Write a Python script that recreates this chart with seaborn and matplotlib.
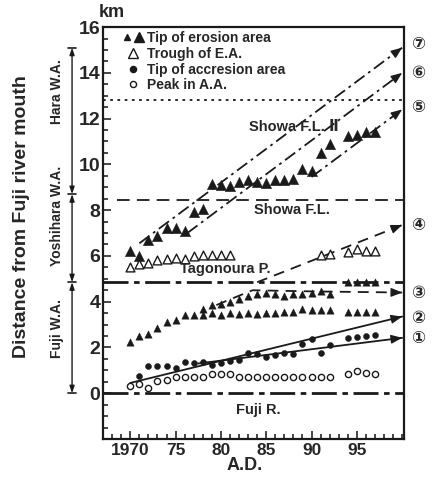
import numpy as np
import pandas as pd
import matplotlib
matplotlib.use("Agg")
import matplotlib.pyplot as plt
import matplotlib.transforms as mtransforms
from matplotlib.lines import Line2D
from matplotlib.legend_handler import HandlerTuple
import seaborn as sns

# ── DATA ─────────────────────────────────────────────────────
# tip of erosion area, upper group (large filled triangles)
ero_hi_year = [1970, 1971, 1972, 1973, 1974, 1975, 1976, 1977, 1978, 1979, 1980,
               1981, 1982, 1983, 1984, 1985, 1986, 1987, 1988, 1989, 1990, 1991,
               1992, 1994, 1995, 1996, 1997]
ero_hi_km = [6.2, 6.0, 6.7, 6.85, 7.2, 7.2, 7.1, 7.9, 8.05, 9.15, 9.1,
             9.05, 9.25, 9.3, 9.25, 9.2, 9.3, 9.3, 9.35, 9.8, 9.7, 10.5,
             10.9, 11.25, 11.3, 11.4, 11.4]

# trough of erosion area (open triangles)
trough_year = [1970, 1971, 1972, 1973, 1974, 1975, 1976, 1977, 1978, 1979, 1980,
               1981, 1991, 1992, 1994, 1995, 1996, 1997]
trough_km = [5.5, 5.65, 5.7, 5.8, 5.85, 5.9, 5.85, 6.0, 6.05, 6.05, 6.05,
             6.05, 6.05, 6.1, 6.15, 6.3, 6.2, 6.2]

# tip of erosion area, lower group (small filled triangles), two rows
ero_lo1_year = [1970, 1971, 1972, 1973, 1974, 1975, 1976, 1977, 1978, 1979, 1980,
                1981, 1982, 1983, 1984, 1985, 1986, 1987, 1988, 1989, 1990, 1991,
                1992, 1994, 1995, 1996, 1997]
ero_lo1_km = [2.25, 2.5, 2.6, 2.85, 3.1, 3.2, 3.4, 3.4, 3.7, 3.85, 3.9,
              4.0, 4.1, 4.25, 4.35, 4.4, 4.35, 4.25, 4.35, 4.35, 4.4, 4.45,
              4.35, 4.85, 4.85, 4.85, 4.85]
ero_lo2_year = [1978, 1979, 1980, 1981, 1982, 1983, 1984, 1985, 1986, 1987, 1988,
                1989, 1990, 1991, 1992, 1994, 1995, 1996, 1997]
ero_lo2_km = [3.4, 3.5, 3.4, 3.5, 3.45, 3.5, 3.45, 3.5, 3.5, 3.55, 3.55,
              3.7, 3.65, 3.65, 3.65, 3.55, 3.55, 3.55, 3.55]

# tip of accretion area (filled circles)
acc_year = [1971, 1972, 1973, 1974, 1975, 1976, 1977, 1978, 1979, 1980, 1981,
            1982, 1983, 1984, 1985, 1986, 1987, 1988, 1989, 1990, 1991, 1992,
            1994, 1995, 1996, 1997]
acc_km = [0.75, 1.2, 1.2, 1.2, 1.12, 1.35, 1.3, 1.35, 1.22, 1.3, 1.4,
          1.45, 1.75, 1.7, 1.57, 1.65, 1.75, 1.7, 2.15, 2.35, 1.75, 2.1,
          2.4, 2.45, 2.5, 2.55]

# peak in accretion area (open circles)
peak_year = [1970, 1971, 1972, 1973, 1974, 1975, 1976, 1977, 1978, 1979, 1980,
             1981, 1982, 1983, 1984, 1985, 1986, 1987, 1988, 1989, 1990, 1991,
             1992, 1994, 1995, 1996, 1997]
peak_km = [0.3, 0.4, 0.25, 0.55, 0.6, 0.7, 0.72, 0.72, 0.7, 0.82, 0.85,
           0.82, 0.72, 0.72, 0.72, 0.72, 0.72, 0.72, 0.72, 0.72, 0.72, 0.72,
           0.7, 0.85, 0.95, 0.9, 0.85]

# trend lines ①..⑦
trend_year = {
    "①": [1977.5, 2000], "②": [1970, 2000], "③": [1979.5, 1981, 1983.5, 1990, 2000],
    "④": [1984, 2000], "⑤": [1990, 2000], "⑥": [1976.3, 2000], "⑦": [1971, 2000],
}
trend_km = {
    "①": [1.3, 2.42], "②": [0.45, 3.35], "③": [3.85, 4.1, 4.5, 4.45, 4.4],
    "④": [4.85, 7.35], "⑤": [9.45, 12.4], "⑥": [7.0, 14.0], "⑦": [6.55, 15.1],
}
trend_label_km = {"①": 2.4, "②": 3.3, "③": 4.4, "④": 7.35, "⑤": 12.5, "⑥": 14.0, "⑦": 15.25}

# reference levels
ref_names = ["Showa F.L. Ⅱ", "Showa F.L.", "Tagonoura P.", "Fuji R."]
ref_km = [12.8, 8.45, 4.85, 0.0]
ref_label_pos = [(1988.1, 11.65), (1987.8, 8.0), (1980.5, 5.42), (1984.1, -0.75)]

# coastal areas on the left
area_names = ["Hara W.A.", "Yoshihara W.A.", "Fuji W.A."]
area_bounds = [(8.7, 15.1), (4.85, 8.7), (0.0, 4.85)]
area_label_km = [13.2, 7.75, 2.85]

# ── STYLE ───────────────────────────────────────────────────
sns.set_theme(style="ticks")
plt.rcParams["font.family"] = ["Liberation Sans", "DejaVu Sans"]
plt.rcParams["font.weight"] = "bold"

fig = plt.figure(figsize=(4.33, 4.79), dpi=100)
ax = fig.add_axes([0.238, 0.0835, 0.695, 0.860])

dashdot = (0, (7, 2.5, 1.5, 2.5))

# reference lines
ax.axhline(ref_km[0], color="k", lw=1.3, ls=(0, (1.5, 2.5)), zorder=1)
ax.hlines(ref_km[1], 1968.5, 2000.2, color="k", lw=1.3, ls=(0, (7, 4)), zorder=1)
ax.axhline(ref_km[2], color="k", lw=2.0, ls=(0, (9, 2, 2, 2)), zorder=1)
ax.axhline(ref_km[3], color="k", lw=2.0, ls=(0, (9, 2, 2, 2)), zorder=1)

# trend lines
styles = {"①": "-", "②": "-", "③": (0, (6, 4)), "④": (0, (6, 4)),
          "⑤": dashdot, "⑥": dashdot, "⑦": dashdot}
for key in trend_year:
    xs, ys = trend_year[key], trend_km[key]
    sns.lineplot(x=xs, y=ys, color="k", lw=1.3, linestyle=styles[key],
                 ax=ax, zorder=2, sort=False, estimator=None)
    x0, y0, x1, y1 = xs[-2], ys[-2], xs[-1], ys[-1]
    frac = 0.6 / (x1 - x0)
    ax.annotate("", xy=(x1, y1), xytext=(x1 - frac * (x1 - x0), y1 - frac * (y1 - y0)),
                arrowprops=dict(arrowstyle="-|>,head_length=0.55,head_width=0.22",
                                color="k", lw=1, shrinkA=0, shrinkB=0),
                annotation_clip=False, zorder=4)
    ax.text(2001.7, trend_label_km[key], key, fontsize=12, fontweight="bold",
            ha="center", va="center", family="DejaVu Sans", clip_on=False)

# points
sns.scatterplot(x=ero_hi_year, y=ero_hi_km, marker="^", s=56, color="k",
                edgecolor="k", linewidth=0.3, ax=ax, zorder=3)
sns.scatterplot(x=trough_year, y=trough_km, marker="^", s=40, color="white",
                edgecolor="k", linewidth=1.0, ax=ax, zorder=3)
sns.scatterplot(x=ero_lo1_year, y=ero_lo1_km, marker="^", s=28, color="k",
                edgecolor="k", linewidth=0.3, ax=ax, zorder=3)
sns.scatterplot(x=ero_lo2_year, y=ero_lo2_km, marker="^", s=28, color="k",
                edgecolor="k", linewidth=0.3, ax=ax, zorder=3)
sns.scatterplot(x=acc_year, y=acc_km, marker="o", s=19, color="k",
                edgecolor="k", linewidth=0.3, ax=ax, zorder=3)
sns.scatterplot(x=peak_year, y=peak_km, marker="o", s=20, color="white",
                edgecolor="k", linewidth=1.0, ax=ax, zorder=3)

# reference labels
for name, (xt, yt) in zip(ref_names, ref_label_pos):
    ax.text(xt, yt, name, fontsize=10.5, ha="center", va="center",
            family=["Liberation Sans", "DejaVu Sans"], zorder=5)

# axes
ax.set_xlim(1967, 2000.2)
ax.set_ylim(-2, 16)
ax.set_xticks([1970, 1975, 1980, 1985, 1990, 1995])
ax.set_xticklabels(["1970", "75", "80", "85", "90", "95"])
ax.set_xticks(np.arange(1967, 2001, 1), minor=True)
ax.set_yticks(np.arange(0, 17, 2))
ax.set_yticks(np.arange(-2, 16.01, 0.5), minor=True)
ax.tick_params(axis="both", which="both", direction="in", width=1.2)
ax.tick_params(axis="both", which="major", length=6)
ax.tick_params(axis="both", which="minor", length=3.5)
ax.tick_params(axis="y", labelsize=14, pad=2)
ax.tick_params(axis="x", labelsize=12.5, pad=3)
for lab in ax.get_xticklabels() + ax.get_yticklabels():
    lab.set_fontweight("bold")
for sp in ax.spines.values():
    sp.set_visible(True)
    sp.set_linewidth(1.6)
    sp.set_color("k")
ax.set_xlabel("")
ax.set_ylabel("")

blend = mtransforms.blended_transform_factory(ax.transAxes, ax.transData)
ax.text(0.03, 16.62, "km", transform=blend, fontsize=13, ha="center", va="center", clip_on=False)
ax.text(1982.6, -3.15, "A.D.", fontsize=13, ha="center", va="center", clip_on=False)

# left side: coastal areas
xb = -0.103
for (lo, hi), name, yl in zip(area_bounds, area_names, area_label_km):
    ax.annotate("", xy=(xb, lo), xytext=(xb, hi), xycoords=blend, textcoords=blend,
                arrowprops=dict(arrowstyle="<|-|>,head_length=0.35,head_width=0.12",
                                color="k", lw=1, shrinkA=0, shrinkB=0),
                annotation_clip=False)
    ax.text(-0.153, yl, name, transform=blend, rotation=90, fontsize=10,
            ha="center", va="center", clip_on=False)
for yb in [0.0, 4.85, 8.7, 15.1]:
    ax.plot([xb - 0.013, xb + 0.013], [yb, yb], color="k", lw=1.2,
            transform=blend, clip_on=False)
ax.text(-0.27, 7.7, "Distance from Fuji river mouth", transform=blend, rotation=90,
        fontsize=14, ha="center", va="center", clip_on=False)

# legend
h_ero = (Line2D([], [], marker="^", ls="", color="k", markersize=4.5),
         Line2D([], [], marker="^", ls="", color="k", markersize=7.5))
h_tr = Line2D([], [], marker="^", ls="", mfc="white", mec="k", markersize=6.5, mew=1)
h_acc = Line2D([], [], marker="o", ls="", color="k", markersize=4.4)
h_pk = Line2D([], [], marker="o", ls="", mfc="white", mec="k", markersize=4.4, mew=1)
ax.legend([h_ero, h_tr, h_acc, h_pk],
          ["Tip of erosion area", "Trough of E.A.", "Tip of accresion area", "Peak in A.A."],
          handler_map={tuple: HandlerTuple(ndivide=None, pad=0.3)},
          loc="upper left", bbox_to_anchor=(0.065, 0.99), frameon=False,
          prop={"weight": "bold", "size": 10}, handlelength=1.5, handletextpad=0.25,
          labelspacing=0.12, borderpad=0, borderaxespad=0)

plt.savefig("out.png", dpi=100)
